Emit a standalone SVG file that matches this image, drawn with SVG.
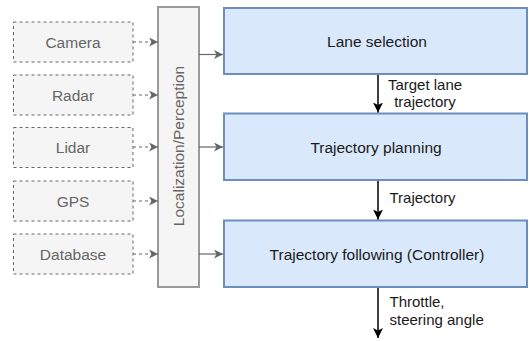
<svg xmlns="http://www.w3.org/2000/svg" width="529" height="341" viewBox="0 0 529 341">
  <defs>
    <style>
      .src rect { fill: #f5f5f5; stroke: #666666; stroke-width: 1; stroke-dasharray: 3 3; }
      .src text { fill: #666666; font-family: "Liberation Sans", Arial, sans-serif; font-size: 15.5px; text-anchor: middle; }
      .blk rect { fill: #dae8fc; stroke: #6c8ebf; stroke-width: 2; }
      .blk text { fill: #1a1a1a; font-family: "Liberation Sans", Arial, sans-serif; font-size: 15.5px; text-anchor: middle; }
      .loc rect { fill: #f5f5f5; stroke: #9a9a9a; stroke-width: 2; }
      .loc text { fill: #666666; font-family: "Liberation Sans", Arial, sans-serif; font-size: 15.5px; text-anchor: middle; }
      .dash { stroke: #666666; stroke-width: 1.2; stroke-dasharray: 3 3; fill: none; }
      .solidg { stroke: #666666; stroke-width: 1.2; fill: none; }
      .solidk { stroke: #000000; stroke-width: 1.5; fill: none; }
      .lbl { fill: #1a1a1a; font-family: "Liberation Sans", Arial, sans-serif; font-size: 15px; }
    </style>
    <marker id="ag" markerUnits="userSpaceOnUse" markerWidth="12" markerHeight="10" refX="9" refY="4.5" orient="auto">
      <path d="M0,0 L9,4.5 L0,9 L2.5,4.5 Z" fill="#666666"/>
    </marker>
    <marker id="ak" markerUnits="userSpaceOnUse" markerWidth="12" markerHeight="11" refX="10" refY="5" orient="auto">
      <path d="M0,0 L10,5 L0,10 L2.5,5 Z" fill="#000000"/>
    </marker>
  </defs>

  <g id="camera" class="src"><rect x="13.5" y="22" width="119.5" height="40"/><text x="73" y="47.5">Camera</text></g>
  <g id="radar" class="src"><rect x="13.5" y="75" width="119.5" height="40"/><text x="73" y="100.5">Radar</text></g>
  <g id="lidar" class="src"><rect x="13.5" y="127.5" width="119.5" height="40"/><text x="73" y="153">Lidar</text></g>
  <g id="gps" class="src"><rect x="13.5" y="181" width="119.5" height="40"/><text x="73" y="206.5">GPS</text></g>
  <g id="database" class="src"><rect x="13.5" y="234" width="119.5" height="40"/><text x="73" y="259.5">Database</text></g>

  <g id="localization" class="loc">
    <rect x="158" y="7" width="41" height="280"/>
    <text x="178.5" y="146" transform="rotate(-90 178.5 146)" dy="5.5">Localization/Perception</text>
  </g>

  <g id="lane-selection" class="blk"><rect x="224" y="8" width="303" height="66"/><text x="377" y="46.5">Lane selection</text></g>
  <g id="trajectory-planning" class="blk"><rect x="224" y="113.5" width="303" height="66.5"/><text x="376" y="152.5">Trajectory planning</text></g>
  <g id="trajectory-following" class="blk"><rect x="224" y="220.5" width="303" height="66.5"/><text x="377" y="259.5">Trajectory following (Controller)</text></g>

  <g id="connectors">
    <line class="dash" x1="133" y1="42" x2="158" y2="42" marker-end="url(#ag)"/>
    <line class="dash" x1="133" y1="95" x2="158" y2="95" marker-end="url(#ag)"/>
    <line class="dash" x1="133" y1="147" x2="158" y2="147" marker-end="url(#ag)"/>
    <line class="dash" x1="133" y1="201" x2="158" y2="201" marker-end="url(#ag)"/>
    <line class="dash" x1="133" y1="254" x2="158" y2="254" marker-end="url(#ag)"/>

    <line class="solidg" x1="199" y1="54.5" x2="223" y2="54.5" marker-end="url(#ag)"/>
    <line class="solidg" x1="199" y1="147" x2="223" y2="147" marker-end="url(#ag)"/>
    <line class="solidg" x1="199" y1="254" x2="223" y2="254" marker-end="url(#ag)"/>

    <line class="solidk" x1="378" y1="75" x2="378" y2="112.5" marker-end="url(#ak)"/>
    <line class="solidk" x1="378" y1="181" x2="378" y2="219.5" marker-end="url(#ak)"/>
    <line class="solidk" x1="378" y1="288" x2="378" y2="338" marker-end="url(#ak)"/>

    <text class="lbl" x="425" y="89.5" text-anchor="middle">Target lane</text>
    <text class="lbl" x="425" y="106.5" text-anchor="middle">trajectory</text>
    <text class="lbl" x="389.5" y="203">Trajectory</text>
    <text class="lbl" x="389.5" y="306.5">Throttle,</text>
    <text class="lbl" x="389.5" y="325">steering angle</text>
  </g>
</svg>
